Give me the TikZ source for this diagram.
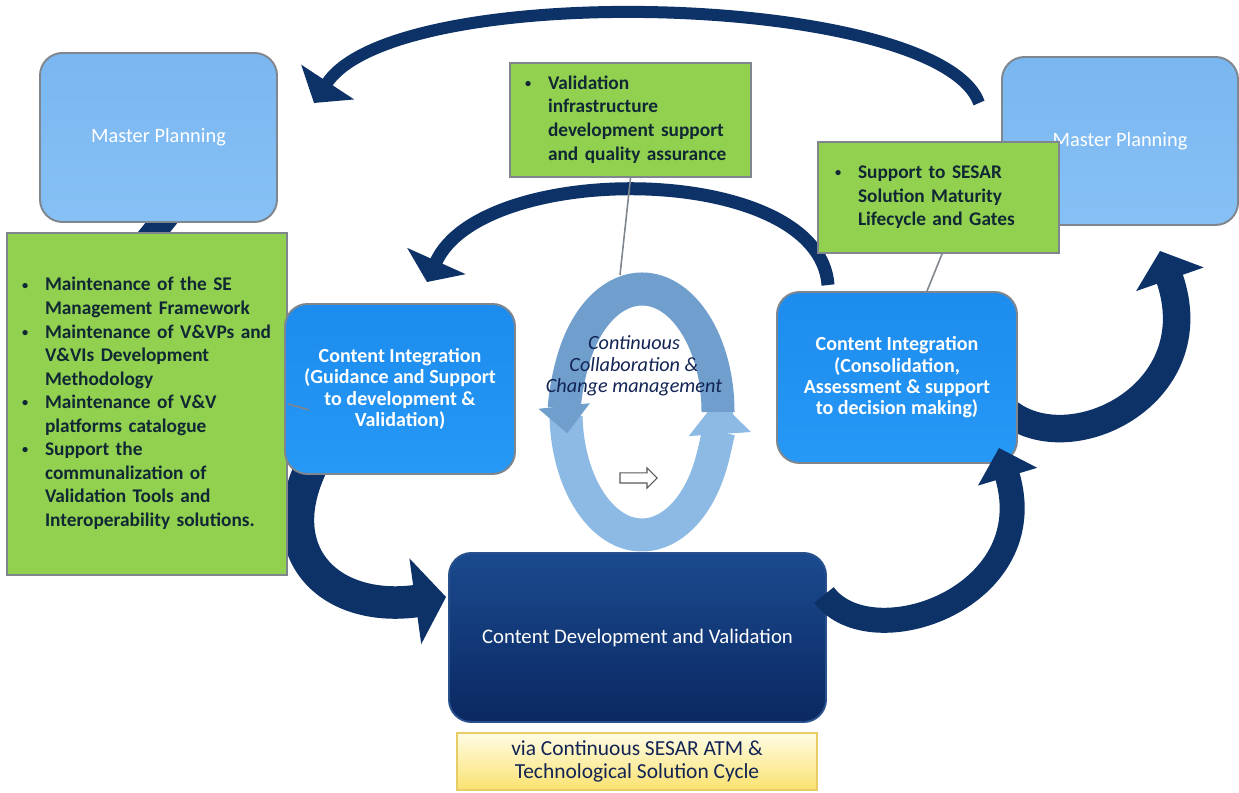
\documentclass[tikz,border=0pt]{standalone}
\usepackage{fontspec}
\setmainfont{Carlito}
\usetikzlibrary{calc,arrows.meta,shapes.arrows,backgrounds}

\definecolor{navyarr}{RGB}{12,50,104}
\definecolor{bleuclairH}{RGB}{122,183,240}
\definecolor{bleuclairB}{RGB}{134,192,245}
\definecolor{bleuvifH}{RGB}{28,140,238}
\definecolor{bleuvifB}{RGB}{38,152,246}
\definecolor{vertfond}{RGB}{146,208,80}
\definecolor{textvert}{RGB}{16,40,52}
\definecolor{grisbord}{RGB}{128,134,142}
\definecolor{devH}{RGB}{26,74,142}
\definecolor{devB}{RGB}{11,40,98}
\definecolor{devbord}{RGB}{40,80,140}
\definecolor{jauneH}{RGB}{255,252,228}
\definecolor{jauneM}{RGB}{250,226,112}
\definecolor{jauneB}{RGB}{232,204,100}
\definecolor{cycfonce}{RGB}{112,158,205}
\definecolor{cycclair}{RGB}{140,186,228}
\definecolor{textcyc}{RGB}{18,36,84}

% petite puce
\newcommand{\puce}{\raisebox{0.2ex}{\fontsize{7}{7}\selectfont\textbullet}}

\begin{document}
\begin{tikzpicture}[
    boite/.style={draw=grisbord, line width=1.1pt, rounded corners=0.45cm, align=center},
    planif/.style={boite, top color=bleuclairH, bottom color=bleuclairB, text=white,
        font=\fontsize{11.6}{13}\selectfont, minimum width=4.74cm, minimum height=3.38cm},
    integ/.style={boite, top color=bleuvifH, bottom color=bleuvifB, text=white,
        font=\fontsize{11.4}{12.2}\selectfont\bfseries, minimum height=3.4cm},
    vert/.style={draw=grisbord, line width=1.1pt, fill=vertfond, text=textvert,
        font=\fontsize{11}{13.4}\selectfont\bfseries, align=left, inner xsep=0.3cm},
    devval/.style={boite, draw=devbord, top color=devH, bottom color=devB, text=white,
        font=\fontsize{11.8}{13}\selectfont, minimum width=7.54cm, minimum height=3.38cm},
    jaune/.style={draw=jauneB, line width=0.8pt, top color=jauneH, bottom color=jauneM,
        text=textcyc, font=\fontsize{12.2}{12.6}\selectfont, align=center,
        minimum width=7.2cm, minimum height=1.14cm},
    fleche/.style={draw=navyarr},
    tour/.style={line width=0.66cm},
    rappel/.style={draw=grisbord, line width=0.9pt}
]
    \useasboundingbox (0,0) rectangle (24.78,15.86);

    % Les boîtes Master Planning
    \node[planif] (mpG) at (3.17,13.11) {Master Planning};
    \node[planif, minimum width=4.72cm, minimum height=3.36cm] (mpD) at (22.40,13.04) {Master Planning};

    % Les boîtes vertes
    \node[vert, text width=5.0cm, minimum height=6.84cm] (vertG) at (2.94,7.78) {\noindent
        \begin{tabular}{@{}p{0.46cm}@{}l@{}}
        \puce & Maintenance of the SE\\
              & Management Framework\\
        \puce & Maintenance of V\&VPs and\\
              & V\&VIs Development\\
              & Methodology\\
        \puce & Maintenance of V\&V\\
              & platforms catalogue\\
        \puce & Support the\\
              & communalization of\\
              & Validation Tools and\\
              & Interoperability solutions.
        \end{tabular}};
    \node[vert, text width=4.22cm, minimum height=2.28cm] (vertH) at (12.61,13.46) {\noindent
        \begin{tabular}{@{}p{0.46cm}@{}l@{}}
        \puce & Validation\\
              & infrastructure\\
              & development support\\
              & and quality assurance
        \end{tabular}};
    \node[vert, text width=4.14cm, inner xsep=0.34cm, minimum height=2.22cm] (vertD) at (18.77,11.91) {\noindent
        \begin{tabular}{@{}p{0.46cm}@{}l@{}}
        \puce & Support to SESAR\\
              & Solution Maturity\\
              & Lifecycle and Gates
        \end{tabular}};

    % Les boîtes Content Integration
    \node[integ, minimum width=4.6cm] (ciG) at (8.00,8.08)
        {Content Integration\\(Guidance and Support\\to development \&\\Validation)};
    \node[integ, minimum width=4.8cm, minimum height=3.42cm] (ciD) at (17.94,8.31)
        {Content Integration\\(Consolidation,\\Assessment \& support\\to decision making)};

    % Développement et validation
    \node[devval] (dev) at (12.75,3.11) {Content Development and Validation};
    \node[jaune] (via) at (12.74,0.63) {via Continuous SESAR ATM \&\\Technological Solution Cycle};

    % Flèches courbes derrière les boîtes
    \begin{pgfonlayer}{background}
    \fill[white] (0,0) rectangle (24.78,15.86);
    \draw[fleche, line width=0.24cm, -{Triangle[width=1.24cm,length=0.5cm]}]
        ($(mpD.west)+(-0.44,0.76)$) .. controls +(-0.8,2.2) and +(1.64,2.5) .. ($(mpG.east)+(0.72,0.69)$);
    \draw[fleche, line width=0.26cm, -{Triangle[width=1.26cm,length=0.46cm]}]
        ($(ciD.north west)+(1.04,0.12)$) .. controls +(-0.18,2.46) and +(1.1,2.45) .. ($(ciG.north)+(0.54,0.42)$);
    \draw[fleche, line width=0.5cm] ($(mpG.south)+(0.33,0.34)$) -- ($(vertG.north)+(-0.1,-0.3)$);
    \draw[fleche, line width=0.65cm, -{Triangle[width=1.7cm,length=0.62cm]}]
        ($(ciG.south west)+(0.56,0.2)$) .. controls +(-0.86,-1.78) and +(-2.32,-0.32) .. ($(dev.west)+(-0.04,0.81)$);
    \draw[fleche, line width=0.55cm, -{Triangle[width=1.4cm,length=0.6cm]}]
        ($(ciD.east)+(-0.2,-0.69)$) .. controls +(1.26,-1.0) and +(1.0,-2.86) .. ($(mpD.south)+(0.80,-0.50)$);
    \end{pgfonlayer}

    % Flèche du bas vers la droite
    \draw[fleche, line width=0.5cm, -{Triangle[width=1.2cm,length=0.6cm]}]
        ($(dev.east)+(-0.06,0.85)$) .. controls +(0.94,-1.26) and +(0.9,-3.0) .. ($(ciD.south east)+(-0.38,0.32)$);

    % Le cycle central
    \coordinate (cyc) at (12.84,7.62);
    \draw[tour, draw=cycclair, -{Triangle[width=1.2cm,length=0.7cm]}]
        ($(cyc)+(182:1.52 and 2.46)$) arc[start angle=182, end angle=366, x radius=1.52cm, y radius=2.46cm];
    \draw[tour, draw=cycfonce, -{Triangle[width=1.0cm,length=0.55cm]}]
        ($(cyc)+(0:1.52 and 2.46)$) arc[start angle=0, end angle=190, x radius=1.52cm, y radius=2.46cm];
    \node[text=textcyc, font=\fontsize{11.5}{12.2}\selectfont\itshape, align=center] (cycTxt) at (12.68,8.54)
        {Continuous\\Collaboration \&\\Change management};
    \node[single arrow, draw=gray!70!black, fill=white, line width=0.6pt, minimum height=0.74cm,
        inner xsep=0pt, inner ysep=0.09cm, single arrow head extend=0.1cm] (pointe) at (12.72,6.30) {};

    % Traits de rappel
    \draw[rappel] (vertH.south) -- ($(cyc)+(-0.44,2.74)$);
    \draw[rappel] ($(vertD.south)+(0.07,0)$) -- ($(ciD.north)+(0.6,0)$);
    \draw[rappel] (vertG.east) -- ($(ciG.west)+(0.5,-0.42)$);
\end{tikzpicture}
\end{document}
